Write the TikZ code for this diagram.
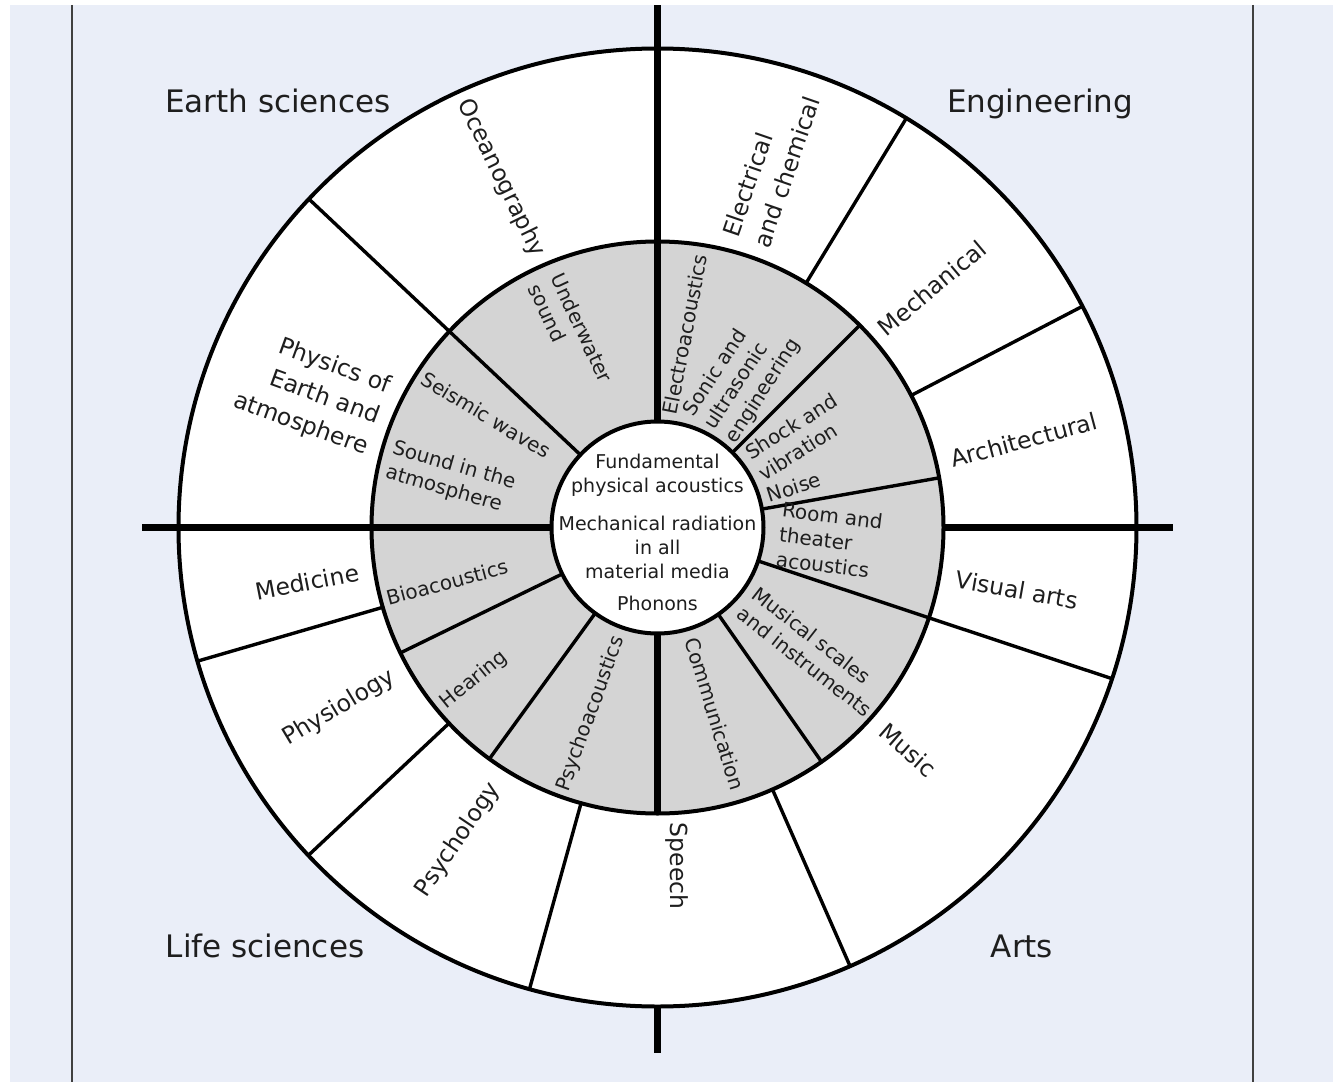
\documentclass[tikz,border=0pt]{standalone}
\usepackage{fontspec}
\setmainfont{DejaVu Sans}
\definecolor{bgblue}{HTML}{EAEEF8}
\definecolor{ringgray}{HTML}{D4D4D4}
\definecolor{txt}{HTML}{1E1E1E}
\tikzset{
  quadlab/.style={font=\fontsize{31}{37}\selectfont, text=txt, inner sep=0pt, anchor=base},
  outlab/.style={font=\fontsize{23.5}{33}\selectfont, text=txt, inner sep=0pt},
  midlab/.style={font=\fontsize{20}{25}\selectfont, text=txt, inner sep=0pt},
  ctrlab/.style={font=\fontsize{19}{24}\selectfont, text=txt, inner sep=0pt, align=center},
  divider/.style={line width=3.4pt, line cap=round},
  axisline/.style={line width=7pt},
  ringline/.style={line width=4pt}
}
\begin{document}
\begin{tikzpicture}[x=1pt,y=1pt]
\path[use as bounding box, fill=white] (-657.5,-554.5) rectangle (682.5,527.5);
\fill[bgblue] (-647.5,-554.5) rectangle (675.5,522.5);
\draw[line width=2pt, color=black!75] (-585.5,522.5) -- (-585.5,-554.5);
\draw[line width=2pt, color=black!75] (595.5,522.5) -- (595.5,-554.5);
% rings
\fill[white] (0,0) circle (479);
\fill[ringgray] (0,0) circle (286);
\fill[white] (0,0) circle (106);
% dividers
\foreach \a in {136.7,-18.4} { \draw[divider] (\a:106) -- (\a:479); }
\foreach \a in {58.7,27.5,-66.3,254.5,223.2,196.2} { \draw[divider] (\a:286) -- (\a:479); }
\foreach \a in {45,10,-55,234,206} { \draw[divider] (\a:106) -- (\a:286); }
\draw[ringline] (0,0) circle (479);
\draw[ringline] (0,0) circle (286);
\draw[ringline] (0,0) circle (106);
% axes
\draw[axisline] (90:106) -- (90:522.5);
\draw[axisline] (180:106) -- (180:515);
\draw[axisline] (0:286) -- (0:515);
\draw[axisline] (270:106) -- (270:286);
\draw[axisline] (270:479) -- (270:525.5);
% quadrant labels
\node[quadlab] (earth) at (-379.5,415) {Earth sciences};
\node[quadlab] (eng) at (382.5,415) {Engineering};
\node[quadlab] (life) at (-392.5,-430.3) {Life sciences};
\node[quadlab] (arts) at (364.5,-430.3) {Arts};
% outer ring labels
\node[outlab, rotate=-64] (ocean) at (-156.5,349.5) {Oceanography};
\node[outlab, rotate=71, align=left] (elec) at (113.5,360.7) {Electrical\\and chemical};
\node[outlab, rotate=40] (mech) at (274.5,239.5) {Mechanical};
\node[outlab, rotate=15] (arch) at (366.5,87.5) {Architectural};
\node[outlab, rotate=-10] (visual) at (359.5,-62.5) {Visual arts};
\node[outlab, rotate=-41] (music) at (250.5,-222.5) {Music};
\node[outlab, rotate=-90] (speech) at (19.5,-338.5) {Speech};
\node[outlab, rotate=56] (psychol) at (-199.5,-312.5) {Psychology};
\node[outlab, rotate=31] (physiol) at (-318.5,-180.5) {Physiology};
\node[outlab, rotate=11] (medic) at (-350.5,-54.5) {Medicine};
\node[outlab, rotate=-20, align=right] (physearth) at (-345.5,133.8) {Physics of\\Earth and\\atmosphere};
% middle ring labels
\node[midlab, rotate=-65, align=left] (underw) at (-86.8,194.2) {Underwater\\sound};
\node[midlab, rotate=-31] (seismic) at (-171.5,112.5) {Seismic waves};
\node[midlab, rotate=-16, align=left] (soundatm) at (-207,49.5) {Sound in the\\atmosphere};
\node[midlab, rotate=79] (electroac) at (27.5,193) {Electroacoustics};
\node[midlab, rotate=57, align=left] (sonic) at (85,150) {Sonic and\\ultrasonic\\engineering};
\node[midlab, rotate=32, align=left] (shock) at (140.4,90.4) {Shock and\\vibration};
\node[midlab, rotate=18] (noise) at (136.5,40.5) {Noise};
\node[midlab, rotate=-7, align=left] (room) at (172,-13) {Room and\\theater\\acoustics};
\node[midlab, rotate=-38, align=left] (musical) at (155,-124) {Musical scales\\and instruments};
\node[midlab, rotate=-73] (commun) at (57.5,-186.5) {Communication};
\node[midlab, rotate=70] (psychoac) at (-66.5,-186.5) {Psychoacoustics};
\node[midlab, rotate=39] (hearing) at (-183.5,-152.5) {Hearing};
\node[midlab, rotate=15] (bioac) at (-210.5,-54.5) {Bioacoustics};
% centre labels
\node[ctrlab] (fund) at (0,52.5) {Fundamental\\physical acoustics};
\node[ctrlab] (mechrad) at (0,-19.5) {Mechanical radiation\\in all\\material media};
\node[ctrlab] (phonons) at (0,-75.5) {Phonons};
\end{tikzpicture}
\end{document}
